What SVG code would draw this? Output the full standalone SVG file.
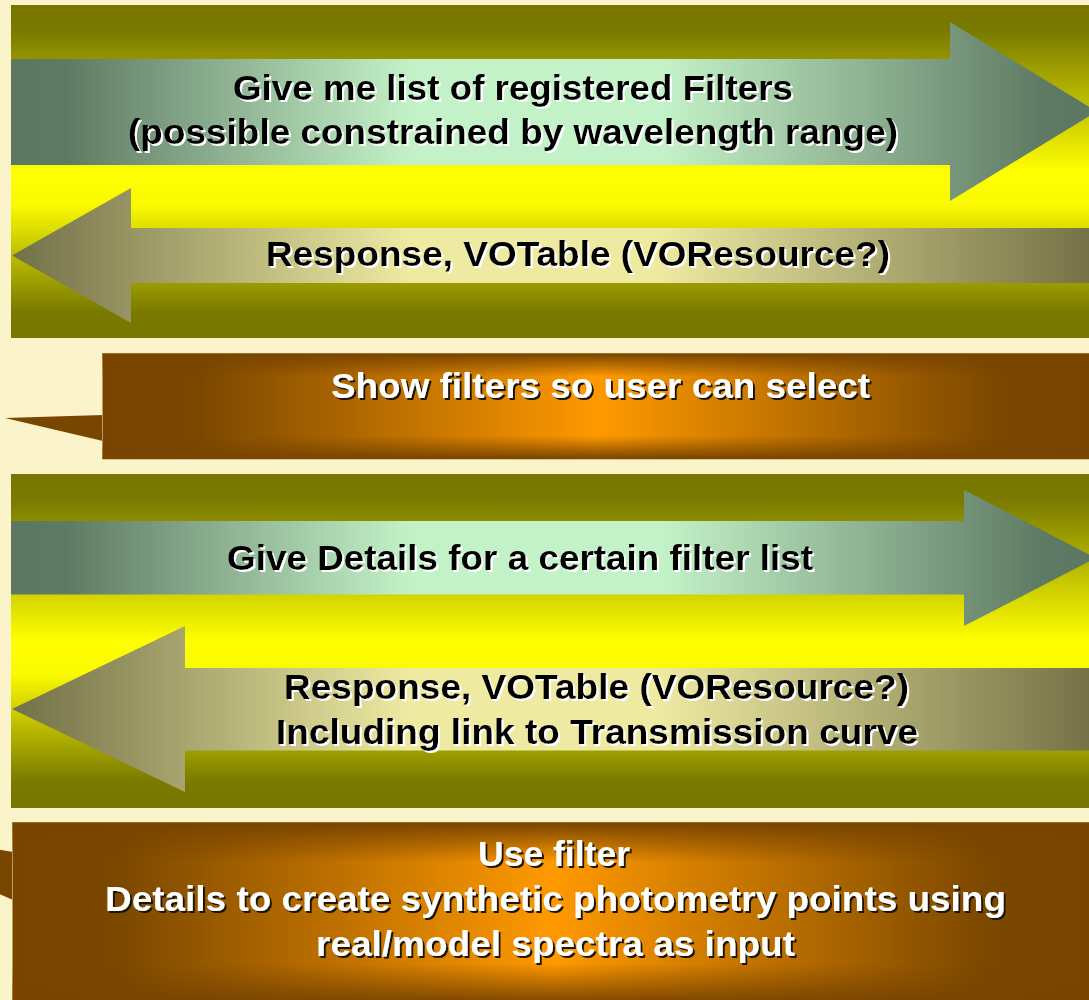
<svg xmlns="http://www.w3.org/2000/svg" width="1089" height="1000" viewBox="0 0 1089 1000">
<defs>
<style>
.lbl{font-family:"Liberation Sans",Arial,sans-serif;font-weight:bold;font-size:35px;text-anchor:middle}
.dk{fill:#000;filter:url(#shW)}
.lt{fill:#fff;filter:url(#shD)}
.olive{fill:url(#gOlive)}
.req{fill:url(#gReq)}
.resp{fill:url(#gResp)}
.orBase{fill:url(#gOrH);stroke:#c09a5a;stroke-width:1}
.orTop{fill:url(#gOrV)}
.callout{fill:#794600}
</style>
<filter id="shW" x="-5%" y="-20%" width="110%" height="150%">
<feOffset in="SourceAlpha" dx="2" dy="2" result="o"/>
<feFlood flood-color="#ffffff"/>
<feComposite in2="o" operator="in" result="s"/>
<feMerge><feMergeNode in="s"/><feMergeNode in="SourceGraphic"/></feMerge>
</filter>
<filter id="shD" x="-5%" y="-20%" width="110%" height="150%">
<feOffset in="SourceAlpha" dx="2" dy="2" result="o"/>
<feFlood flood-color="#1e1200"/>
<feComposite in2="o" operator="in" result="s"/>
<feMerge><feMergeNode in="s"/><feMergeNode in="SourceGraphic"/></feMerge>
</filter>
<linearGradient id="gOlive" x1="0" y1="0" x2="0" y2="1">
<stop offset="0" stop-color="#767600"/>
<stop offset="0.08" stop-color="#7a7a00"/>
<stop offset="0.5" stop-color="#ffff00"/>
<stop offset="0.6" stop-color="#fafa00"/>
<stop offset="0.92" stop-color="#7a7a00"/>
<stop offset="1" stop-color="#767600"/>
</linearGradient>
<linearGradient id="gReq" x1="0" y1="0" x2="1" y2="0">
<stop offset="0" stop-color="#5c7762"/>
<stop offset="0.05" stop-color="#5f7a64"/>
<stop offset="0.37" stop-color="#c4f2c8"/>
<stop offset="0.6" stop-color="#c4f2c8"/>
<stop offset="0.95" stop-color="#5f7a64"/>
<stop offset="1" stop-color="#5c7762"/>
</linearGradient>
<linearGradient id="gResp" x1="0" y1="0" x2="1" y2="0">
<stop offset="0" stop-color="#727048"/>
<stop offset="0.37" stop-color="#eeeaa2"/>
<stop offset="0.6" stop-color="#eeeaa2"/>
<stop offset="1" stop-color="#757248"/>
</linearGradient>
<linearGradient id="gOrH" x1="0" y1="0" x2="1" y2="0">
<stop offset="0" stop-color="#784400"/>
<stop offset="0.1" stop-color="#7c4800"/>
<stop offset="0.5" stop-color="#ff9900"/>
<stop offset="0.9" stop-color="#7c4800"/>
<stop offset="1" stop-color="#784400"/>
</linearGradient>
<linearGradient id="gOrV" x1="0" y1="0" x2="0" y2="1">
<stop offset="0" stop-color="#784400" stop-opacity="1"/>
<stop offset="0.22" stop-color="#784400" stop-opacity="0"/>
<stop offset="0.78" stop-color="#784400" stop-opacity="0"/>
<stop offset="1" stop-color="#784400" stop-opacity="1"/>
</linearGradient>
</defs>
<rect x="0" y="0" width="1089" height="1000" fill="#fbf3c9"/>

<g id="panel-registry">
<rect class="olive" x="11" y="5" width="1078" height="333"/>
</g>

<g id="step-show-filters">
<polygon class="callout" points="103,415 5,418 103,441"/>
<rect class="orBase" x="102.5" y="353.5" width="990" height="105.5"/>
<rect class="orTop" x="102.5" y="353.5" width="990" height="105.5"/>
<text class="lbl lt" x="600.5" y="398" textLength="539" lengthAdjust="spacingAndGlyphs">Show filters so user can select</text>
</g>

<g id="panel-details">
<rect class="olive" x="11" y="474" width="1078" height="334"/>
</g>

<g id="step-use-filter">
<polygon class="callout" points="13,852 -10,848 -10,890 13,900"/>
<rect class="orBase" x="12.5" y="822.5" width="1080" height="181"/>
<rect class="orTop" x="12.5" y="822.5" width="1080" height="181"/>
<text class="lbl lt" x="554" y="866" textLength="152" lengthAdjust="spacingAndGlyphs">Use filter</text>
<text class="lbl lt" x="555.5" y="911" textLength="901" lengthAdjust="spacingAndGlyphs">Details to create synthetic photometry points using</text>
<text class="lbl lt" x="555.5" y="956" textLength="479" lengthAdjust="spacingAndGlyphs">real/model spectra as input</text>
</g>

<g id="connectors">
<g id="arrow-request-filters">
<polygon class="req" points="11,59 950,59 950,22 1097,111.5 950,201 950,165 11,165"/>
<text class="lbl dk" x="513" y="100" textLength="560" lengthAdjust="spacingAndGlyphs">Give me list of registered Filters</text>
<text class="lbl dk" x="513" y="144" textLength="770" lengthAdjust="spacingAndGlyphs">(possible constrained by wavelength range)</text>
</g>
<g id="arrow-response-filters">
<polygon class="resp" points="12,255.5 131,188 131,228 1089,228 1089,283 131,283 131,323"/>
<text class="lbl dk" x="578" y="266" textLength="624" lengthAdjust="spacingAndGlyphs">Response, VOTable (VOResource?)</text>
</g>
<g id="arrow-request-details">
<polygon class="req" points="11,521 964,521 964,490 1096,558 964,626 964,594.5 11,594.5"/>
<text class="lbl dk" x="520" y="570" textLength="586" lengthAdjust="spacingAndGlyphs">Give Details for a certain filter list</text>
</g>
<g id="arrow-response-details">
<polygon class="resp" points="12,709 185,626 185,668 1089,668 1089,750.5 185,750.5 185,792"/>
<text class="lbl dk" x="596.5" y="699" textLength="625" lengthAdjust="spacingAndGlyphs">Response, VOTable (VOResource?)</text>
<text class="lbl dk" x="597" y="743.5" textLength="642" lengthAdjust="spacingAndGlyphs">Including link to Transmission curve</text>
</g>
</g>
</svg>
